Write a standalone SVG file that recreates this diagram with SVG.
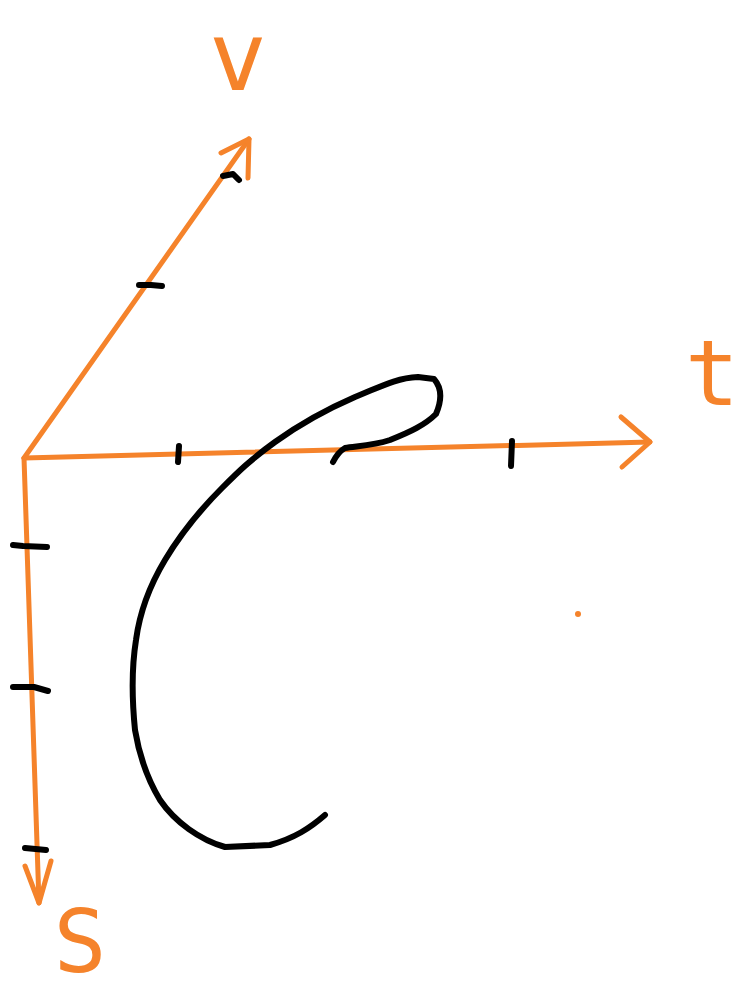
<svg xmlns="http://www.w3.org/2000/svg" width="744" height="1004" viewBox="0 0 744 1004">
<style>
.ax{fill:none;stroke:#F5832B;stroke-width:5;stroke-linecap:round;stroke-linejoin:round}
.tk{fill:none;stroke:#000;stroke-width:6;stroke-linecap:round;stroke-linejoin:round}
.lb{font-family:"DejaVu Sans Mono","Liberation Mono",monospace;fill:#F5832B}
</style>
<rect width="744" height="1004" fill="#fff"/>
<g id="connectors">
<g id="axis-v">
<path class="ax" d="M24,458 L249,139"/>
<path class="ax" d="M221,153 L249,139 L248,178"/>
</g>
<g id="axis-t">
<path class="ax" d="M24,458 L650,442"/>
<path class="ax" d="M621,417 L650,442 L622,467"/>
</g>
<g id="axis-s">
<path class="ax" d="M24,458 L39,903"/>
<path class="ax" d="M25,866 L39,903 L51,861"/>
</g>
</g>
<g id="ticks">
<path class="tk" d="M223,176 L233,174 L239,180"/>
<path class="tk" d="M139,285 L151,285 L162,286"/>
<path class="tk" d="M179,446 L178,462"/>
<path class="tk" d="M512,441 L511,466"/>
<path class="tk" d="M13,545 L23,546 L47,547"/>
<path class="tk" d="M13,687 L34,687 L48,691"/>
<path class="tk" d="M25,848 L46,850"/>
</g>
<g id="curve">
<path class="tk" d="M325,815 C310,828 295,838 270,845 L225,847 C200,840 175,822 160,800 C148,780 140,760 135,730 C132,700 132,665 136,640 C140,610 150,585 165,560 C180,535 200,510 222,488 C238,472 250,460 275,442 C300,424 325,410 355,397 C378,388 395,378 418,377 L434,379 C442,388 442,400 436,414 C425,425 410,432 390,440 C372,446 356,446 345,448 C338,452 335,458 333,462"/>
</g>
<g id="labels">
<text id="label-v" class="lb" x="238" y="90" font-size="96" text-anchor="middle">v</text>
<text id="label-t" class="lb" x="712" y="405" font-size="90" text-anchor="middle">t</text>
<text id="label-s" class="lb" x="80" y="972" font-size="88" text-anchor="middle">S</text>
</g>
<circle id="dot" cx="578" cy="614" r="3" fill="#F5832B"/>
</svg>
